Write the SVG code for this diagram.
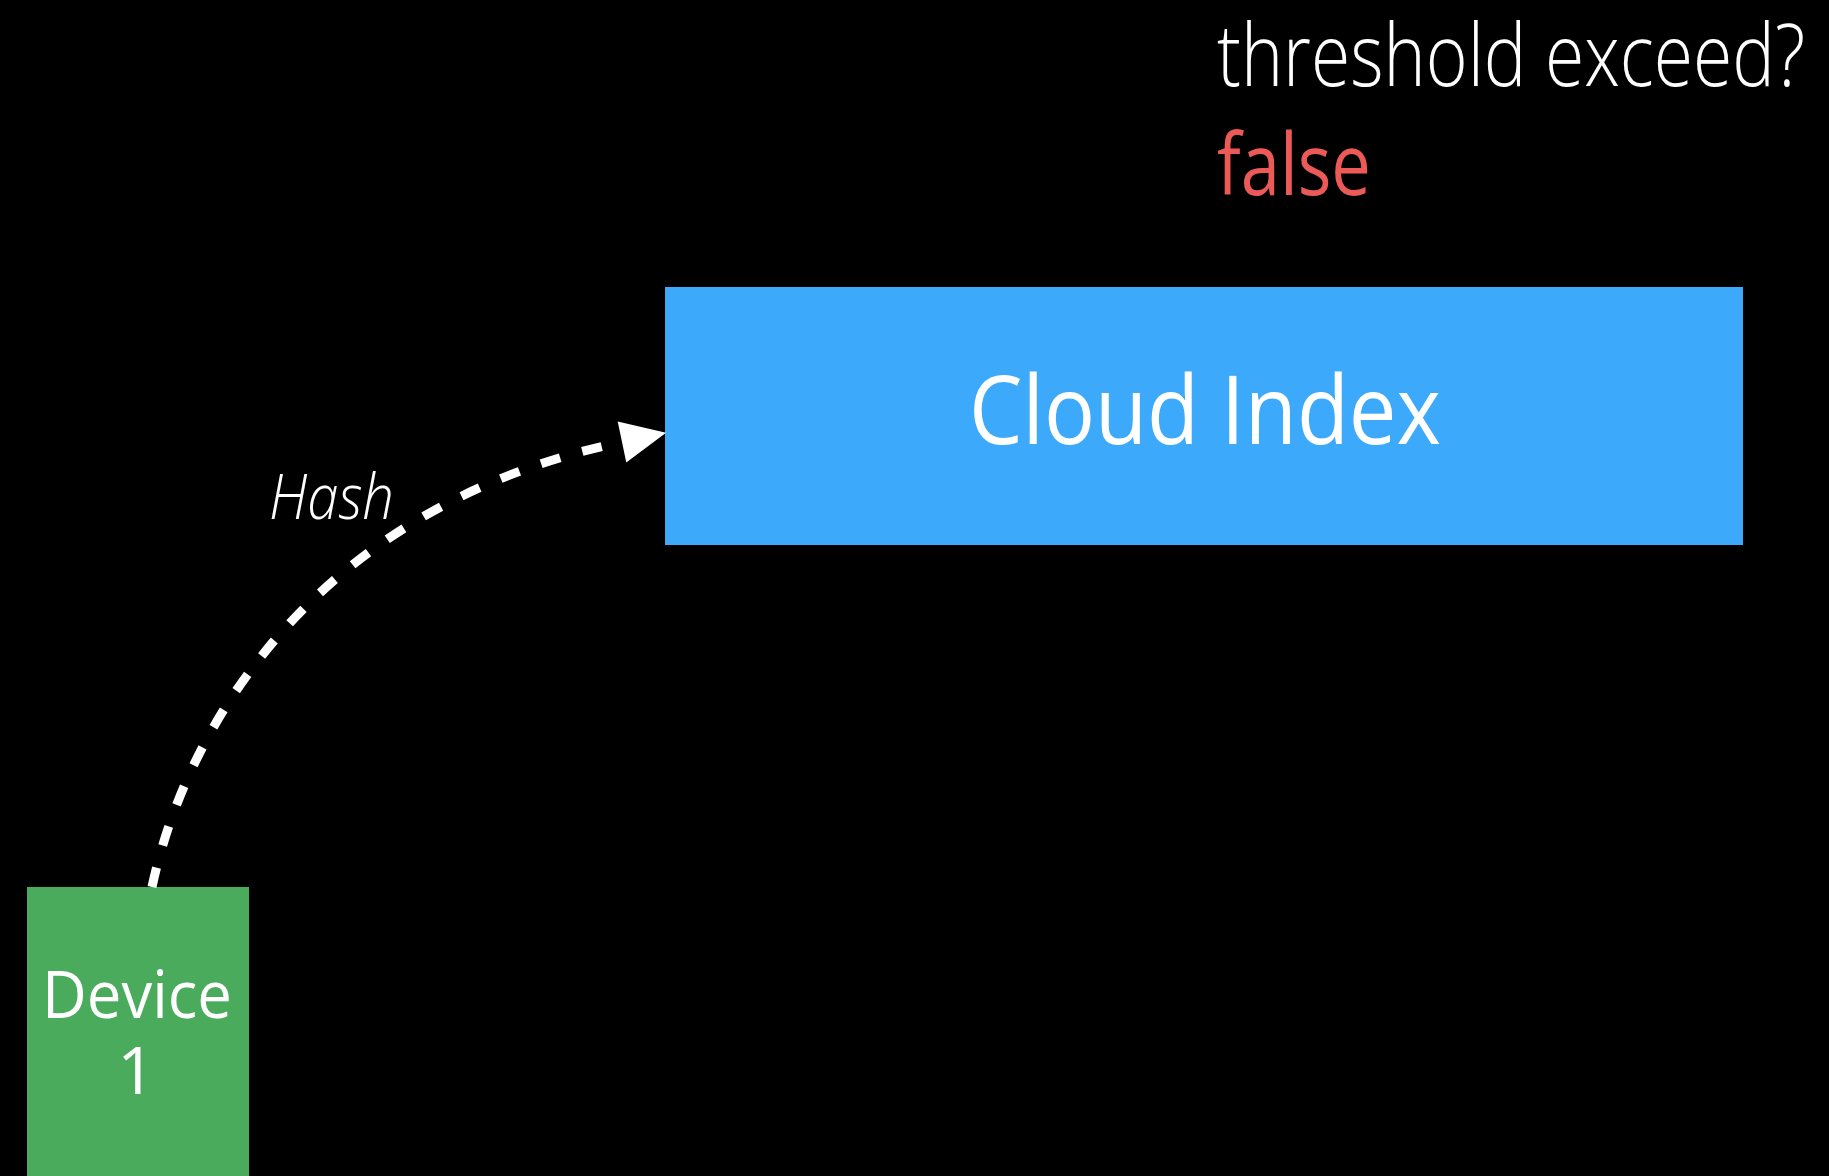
<svg xmlns="http://www.w3.org/2000/svg" width="1829" height="1176" viewBox="0 0 1829 1176">
  <style>
    text { font-family: "Open Sans", "Noto Sans", "Liberation Sans", sans-serif; fill: #ffffff; }
    .light { font-weight: 300; }
    .label { font-size: 66px; text-anchor: middle; }
    .flow { fill: none; stroke: #ffffff; stroke-width: 9; stroke-dasharray: 20 23; }
  </style>
  <defs>
    <marker id="arrowhead" markerUnits="userSpaceOnUse" orient="auto" refX="0" refY="0" markerWidth="60" markerHeight="60" viewBox="-2 -30 60 60" overflow="visible">
      <path d="M0,-21 L45,0 L0,21 Z" fill="#ffffff"/>
    </marker>
  </defs>

  <rect x="0" y="0" width="1829" height="1176" fill="#000000"/>

  <!-- status readout -->
  <g id="status">
    <text class="light" x="1217" y="86" font-size="86" textLength="588" lengthAdjust="spacingAndGlyphs">threshold exceed?</text>
    <text x="1217" y="195" font-size="86" textLength="154" lengthAdjust="spacingAndGlyphs" style="fill:#EB5A56">false</text>
  </g>

  <!-- server-side index -->
  <g id="cloud-index">
    <rect x="665" y="287" width="1078" height="258" fill="#3CA9FA"/>
    <text x="1205" y="444" font-size="96" text-anchor="middle" textLength="472" lengthAdjust="spacingAndGlyphs">Cloud Index</text>
  </g>

  <!-- client device -->
  <g id="device-1">
    <rect x="27" y="887" width="222" height="289" fill="#49AB5B"/>
    <text class="label" x="137" y="1018" textLength="190" lengthAdjust="spacingAndGlyphs">Device</text>
    <text class="label" x="136" y="1094">1</text>
  </g>

  <!-- hash upload -->
  <g id="connectors">
    <path class="flow" d="M152,887 C190,710 330,503 622,442" marker-end="url(#arrowhead)"/>
    <text class="light" x="269" y="519" font-size="63" font-style="italic" textLength="125" lengthAdjust="spacingAndGlyphs">Hash</text>
  </g>
</svg>
